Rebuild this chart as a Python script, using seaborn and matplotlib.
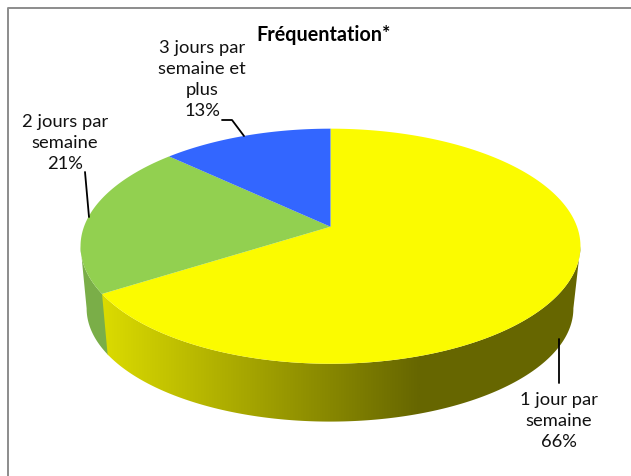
import matplotlib
matplotlib.use("Agg")
import matplotlib.pyplot as plt
from matplotlib.patches import Polygon
import numpy as np
import seaborn as sns

labels = ["1 jour par\nsemaine\n66%", "2 jours par\nsemaine\n21%", "3 jours par\nsemaine et\nplus\n13%"]
values = [66, 21, 13]
top_colors = ["#fbfb00", "#92d050", "#3366ff"]
title = "Fréquentation*"

sns.set_theme(style="white")
plt.rcParams["font.family"] = ["Lato", "DejaVu Sans"]

# perspective of the pie: disc position to picture pixels
SKEW = 0.166


def project(t, cx, cy, a, b):
    u, v = np.sin(t), np.cos(t)
    d = 1 + SKEW * v
    return cx + a * u / d, cy - b * v / d


def top(t):
    return project(t, 330.5, 227.7, 246.5, 114.3)


def bottom(t):
    return project(t, 330, 290.7, 240, 110)


def wall(start, end):
    t = np.linspace(start, end, 200)
    x0, y0 = top(t)
    x1, y1 = bottom(t[::-1])
    return np.c_[np.r_[x0, x1], np.r_[y0, y1]]


fig = plt.figure(figsize=(6.31, 4.77), dpi=100)
ax = fig.add_axes([0, 0, 1, 1])
ax.axis("off")

edges = np.radians(np.cumsum([0] + values) * 3.6)
apex_x, apex_y = top(0.0)[0], 227.7
right_t, left_t = np.radians(99.5), np.radians(260.5)

# side wall, yellow part has a gradient going left to right
shades = np.array(sns.blend_palette(["#dede00", "#666600"], 256))[:, :3]
grad = ax.imshow(shades[np.newaxis, :, :], extent=(95, 420, 477, 0), aspect="auto", zorder=1)
dark = ax.imshow(shades[np.newaxis, -1:, :], extent=(420, 590, 477, 0), aspect="auto", zorder=1)
clip = Polygon(wall(right_t, edges[1]), closed=True, transform=ax.transData, fc="none", ec="none")
ax.add_patch(clip)
grad.set_clip_path(clip)
dark.set_clip_path(clip)
ax.add_patch(Polygon(wall(edges[1] - 0.01, left_t), closed=True, fc="#7aae48", ec="none", zorder=0.5))

ax.set_xlim(0, 631)
ax.set_ylim(477, 0)

# top face
for start, end, color in zip(edges[:-1], edges[1:], top_colors):
    x, y = top(np.linspace(start, end, 200))
    ax.fill(np.r_[apex_x, x], np.r_[apex_y, y], color=color, lw=0, zorder=2)

# leader lines
ax.plot([559, 559], [340, 384], color="black", lw=1.3, zorder=3)
ax.plot([85, 89], [173, 218], color="black", lw=1.3, zorder=3)
ax.plot([222, 232, 244], [121, 121, 137], color="black", lw=1.3, zorder=3)

# labels
size = 13.2
spacing = 1.4
ax.text(559, 421, labels[0], ha="center", va="center", fontsize=size, linespacing=spacing, color="#111111")
ax.text(65, 143, labels[1], ha="center", va="center", fontsize=size, linespacing=spacing, color="#111111")
ax.text(202, 79.5, labels[2], ha="center", va="center", fontsize=size, linespacing=spacing, color="#111111")
ax.text(324, 35, title, ha="center", va="center", fontsize=14.2, fontweight="bold", color="black")

# chart frame, only left and top show
ax.plot([8, 8, 631], [477, 9, 9], color="#8c8c8c", lw=1.4)

fig.savefig("out.png", dpi=100)
